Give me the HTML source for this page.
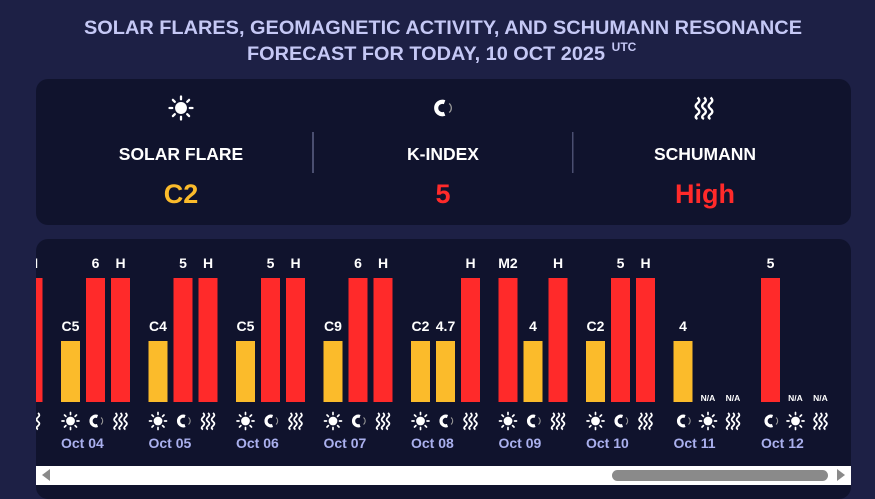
<!DOCTYPE html>
<html><head><meta charset="utf-8"><style>
html,body{margin:0;padding:0;background:#1d2045;}
svg{display:block;font-family:"Liberation Sans",sans-serif;font-weight:bold;}
</style></head><body>
<svg width="875" height="499" viewBox="0 0 875 499" xmlns="http://www.w3.org/2000/svg">
<defs>
<g id="sun" fill="#fff" stroke="#fff">
<circle cx="0" cy="0" r="4.4" stroke="none"/>
<g stroke-width="1.7" stroke-linecap="round">
<line x1="0" y1="-6.5" x2="0" y2="-8.5"/><line x1="0" y1="6.5" x2="0" y2="8.5"/>
<line x1="-6.5" y1="0" x2="-8.5" y2="0"/><line x1="6.5" y1="0" x2="8.5" y2="0"/>
<line x1="4.6" y1="4.6" x2="6" y2="6"/><line x1="-4.6" y1="-4.6" x2="-6" y2="-6"/>
<line x1="4.6" y1="-4.6" x2="6" y2="-6"/><line x1="-4.6" y1="4.6" x2="-6" y2="6"/>
</g></g>
<g id="mag" fill="none">
<path d="M2,-4.5 A4.8,4.8 0 1 0 2,4.5" stroke="#fff" stroke-width="3.2"/>
<path d="M5.5,-3.5 A4.5,4.5 0 0 1 5.5,3.5" stroke="#999" stroke-width="1"/>
</g>
<g id="wav" fill="none" stroke="#fff" stroke-width="1.8">
<path d="M-5,-8 q2.8,2.2 0,4.3 q-2.8,2.2 0,4.3 q2.8,2.2 0,4.3 q-2.8,2.2 0,3.5"/>
<path d="M0,-8 q2.8,2.2 0,4.3 q-2.8,2.2 0,4.3 q2.8,2.2 0,4.3 q-2.8,2.2 0,3.5"/>
<path d="M5,-8 q2.8,2.2 0,4.3 q-2.8,2.2 0,4.3 q2.8,2.2 0,4.3 q-2.8,2.2 0,3.5"/>
</g>
<clipPath id="cp"><rect x="36" y="239" width="815" height="260" rx="12"/></clipPath>
</defs>
<rect width="875" height="499" fill="#1d2045"/>
<g fill="#c5c8f5" font-size="19" text-anchor="middle">
<text x="443" y="34" textLength="718" lengthAdjust="spacingAndGlyphs">SOLAR FLARES, GEOMAGNETIC ACTIVITY, AND SCHUMANN RESONANCE</text>
<text x="426" y="60" textLength="358" lengthAdjust="spacingAndGlyphs">FORECAST FOR TODAY, 10 OCT 2025</text>
<text x="624" y="51" font-size="12">UTC</text>
</g>
<rect x="36" y="79" width="815" height="146" rx="12" fill="#10132d"/>
<rect x="312" y="132" width="2" height="41" fill="#4a4e70"/>
<rect x="572" y="132" width="1.5" height="41" fill="#4a4e70"/>
<use href="#sun" transform="translate(181,108) scale(1.35)"/>
<use href="#mag" transform="translate(442,108) scale(1.3)"/>
<use href="#wav" transform="translate(704,108) scale(1.3)"/>
<g fill="#fff" font-size="17.5" text-anchor="middle">
<text x="181" y="160">SOLAR FLARE</text>
<text x="443" y="160">K-INDEX</text>
<text x="705" y="160">SCHUMANN</text>
</g>
<g font-size="27" text-anchor="middle">
<text x="181" y="203" fill="#fbbb2b">C2</text>
<text x="443" y="203" fill="#ff2a2a">5</text>
<text x="705" y="203" fill="#ff2a2a">High</text>
</g>
<g clip-path="url(#cp)">
<rect x="36" y="239" width="815" height="260" fill="#10132d"/>
<g fill="#ff2a2a">
<rect x="23.5" y="278" width="19" height="124"/>
<rect x="86" y="278" width="19" height="124"/><rect x="111" y="278" width="19" height="124"/>
<rect x="173.5" y="278" width="19" height="124"/><rect x="198.5" y="278" width="19" height="124"/>
<rect x="261" y="278" width="19" height="124"/><rect x="286" y="278" width="19" height="124"/>
<rect x="348.5" y="278" width="19" height="124"/><rect x="373.5" y="278" width="19" height="124"/>
<rect x="461" y="278" width="19" height="124"/>
<rect x="498.5" y="278" width="19" height="124"/><rect x="548.5" y="278" width="19" height="124"/>
<rect x="611" y="278" width="19" height="124"/><rect x="636" y="278" width="19" height="124"/>
<rect x="761" y="278" width="19" height="124"/>
</g>
<g fill="#fbbb2b">
<rect x="61" y="341" width="19" height="61"/>
<rect x="148.5" y="341" width="19" height="61"/>
<rect x="236" y="341" width="19" height="61"/>
<rect x="323.5" y="341" width="19" height="61"/>
<rect x="411" y="341" width="19" height="61"/><rect x="436" y="341" width="19" height="61"/>
<rect x="523.5" y="341" width="19" height="61"/>
<rect x="586" y="341" width="19" height="61"/>
<rect x="673.5" y="341" width="19" height="61"/>
</g>
<g fill="#fff" font-size="14" text-anchor="middle">
<text x="33" y="268">H</text>
<text x="95.5" y="268">6</text><text x="120.5" y="268">H</text>
<text x="183" y="268">5</text><text x="208" y="268">H</text>
<text x="270.5" y="268">5</text><text x="295.5" y="268">H</text>
<text x="358" y="268">6</text><text x="383" y="268">H</text>
<text x="470.5" y="268">H</text>
<text x="508" y="268">M2</text><text x="558" y="268">H</text>
<text x="620.5" y="268">5</text><text x="645.5" y="268">H</text>
<text x="770.5" y="268">5</text>
<text x="70.5" y="331">C5</text>
<text x="158" y="331">C4</text>
<text x="245.5" y="331">C5</text>
<text x="333" y="331">C9</text>
<text x="420.5" y="331">C2</text><text x="445.5" y="331">4.7</text>
<text x="533" y="331">4</text>
<text x="595.5" y="331">C2</text>
<text x="683" y="331">4</text>
</g>
<g fill="#fff" font-size="8.5" text-anchor="middle">
<text x="708" y="401">N/A</text><text x="733" y="401">N/A</text>
<text x="795.5" y="401">N/A</text><text x="820.5" y="401">N/A</text>
</g>
<use href="#wav" x="33" y="421"/>
<use href="#sun" x="70.5" y="421"/><use href="#mag" x="95.5" y="421"/><use href="#wav" x="120.5" y="421"/>
<use href="#sun" x="158" y="421"/><use href="#mag" x="183" y="421"/><use href="#wav" x="208" y="421"/>
<use href="#sun" x="245.5" y="421"/><use href="#mag" x="270.5" y="421"/><use href="#wav" x="295.5" y="421"/>
<use href="#sun" x="333" y="421"/><use href="#mag" x="358" y="421"/><use href="#wav" x="383" y="421"/>
<use href="#sun" x="420.5" y="421"/><use href="#mag" x="445.5" y="421"/><use href="#wav" x="470.5" y="421"/>
<use href="#sun" x="508" y="421"/><use href="#mag" x="533" y="421"/><use href="#wav" x="558" y="421"/>
<use href="#sun" x="595.5" y="421"/><use href="#mag" x="620.5" y="421"/><use href="#wav" x="645.5" y="421"/>
<use href="#mag" x="683" y="421"/><use href="#sun" x="708" y="421"/><use href="#wav" x="733" y="421"/>
<use href="#mag" x="770.5" y="421"/><use href="#sun" x="795.5" y="421"/><use href="#wav" x="820.5" y="421"/>
<g fill="#aab0ee" font-size="14">
<text x="61" y="448">Oct 04</text>
<text x="148.5" y="448">Oct 05</text>
<text x="236" y="448">Oct 06</text>
<text x="323.5" y="448">Oct 07</text>
<text x="411" y="448">Oct 08</text>
<text x="498.5" y="448">Oct 09</text>
<text x="586" y="448">Oct 10</text>
<text x="673.5" y="448">Oct 11</text>
<text x="761" y="448">Oct 12</text>
</g>
<rect x="36" y="466" width="815" height="19" fill="#fff"/>
<polygon points="50,469 50,481 42,475" fill="#8a8a8a"/>
<rect x="612" y="470" width="216" height="11" rx="5.5" fill="#8a8a8a"/>
<polygon points="837,469 837,481 845,475" fill="#8a8a8a"/>
</g>
</svg>
</body></html>
